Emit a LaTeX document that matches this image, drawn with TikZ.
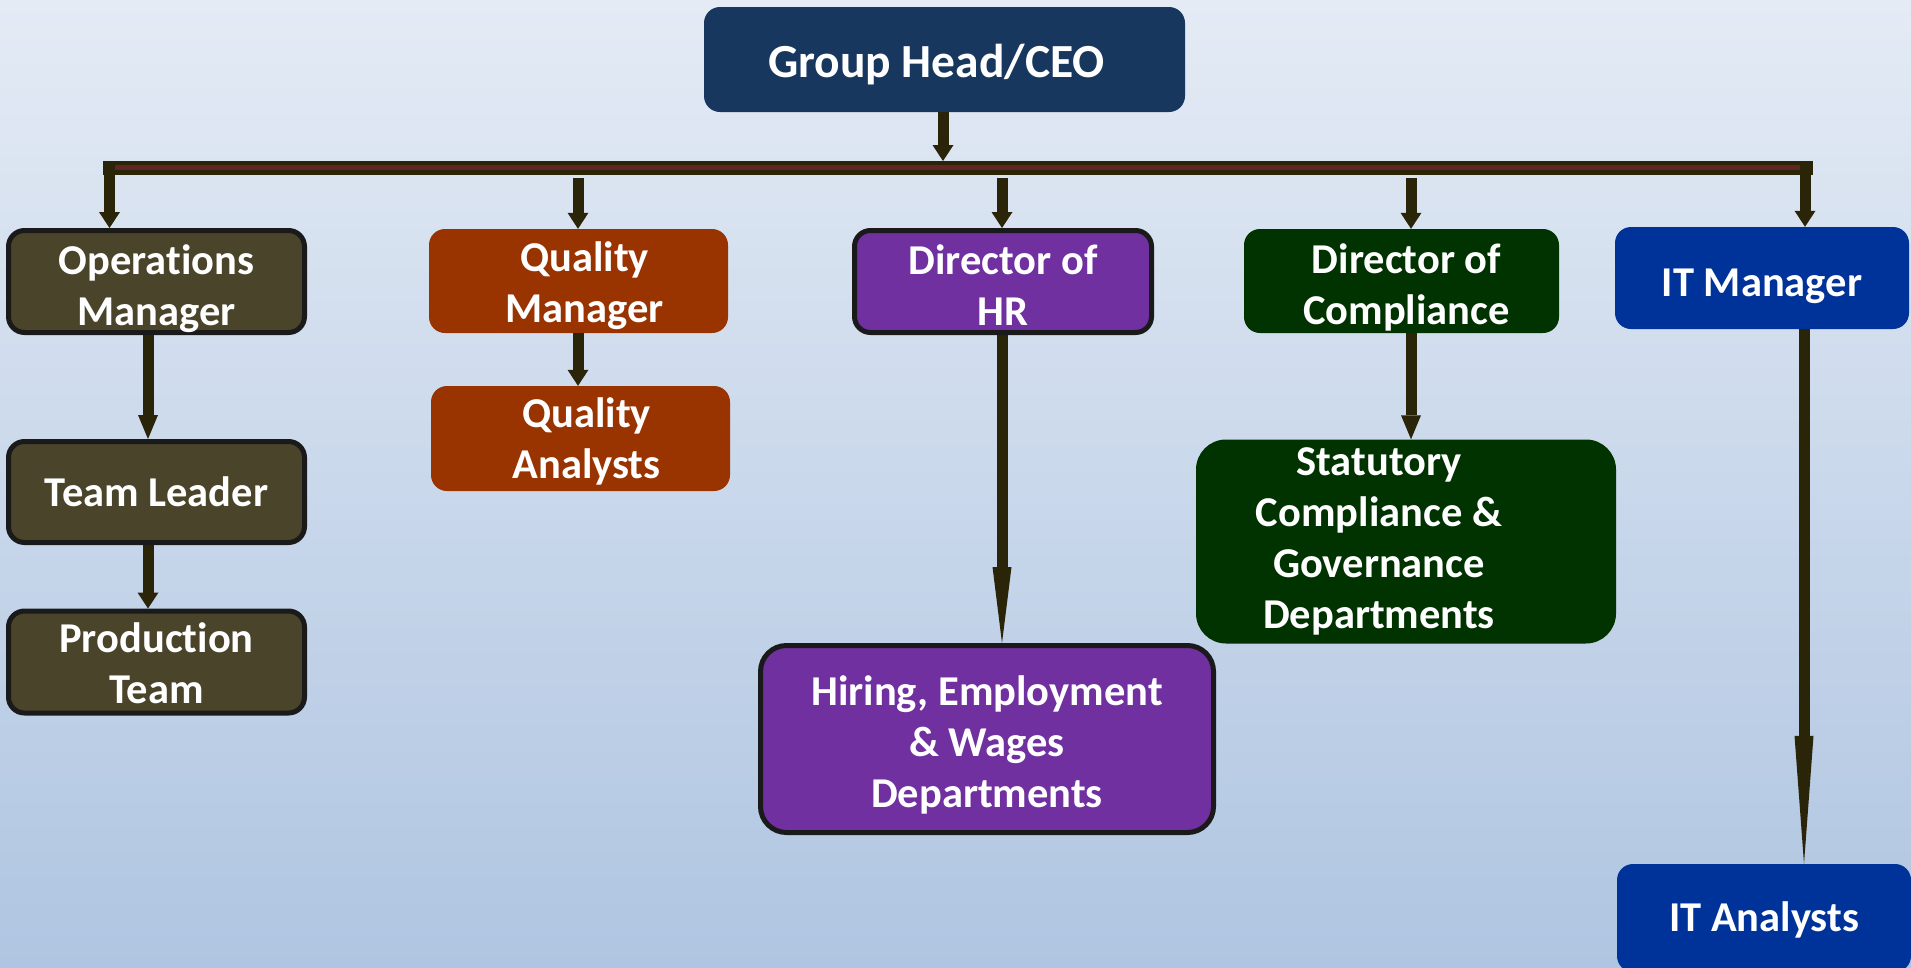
\documentclass[tikz,border=0pt]{standalone}
\usepackage{fontspec}
\setmainfont{Carlito}[Ligatures=NoCommon]
\usetikzlibrary{arrows.meta}
\definecolor{bgtop}{HTML}{E4EBF5}
\definecolor{bgbot}{HTML}{AFC5E1}
\definecolor{ceoc}{HTML}{17375E}
\definecolor{opsc}{HTML}{4A442B}
\definecolor{qualc}{HTML}{993300}
\definecolor{hrc}{HTML}{7030A0}
\definecolor{compc}{HTML}{003300}
\definecolor{itc}{HTML}{003399}
\definecolor{bordc}{HTML}{1A1A1A}
\definecolor{arrc}{HTML}{2A2408}
\definecolor{stripec}{HTML}{632523}
% \lbl{x shift}{raise}{lines}
\newcommand\lbl[3]{\hspace*{#1}\raisebox{#2}[\height][\depth]{\begin{tabular}{@{}c@{}}#3\end{tabular}}\hspace*{-#1}}
\begin{document}
\begin{tikzpicture}[x=1pt,y=-1pt,
  box/.style={rounded corners=16pt, text=white, font=\bfseries\fontsize{42.5}{51}\selectfont, inner sep=0pt},
  bordered/.style={draw=bordc, line width=5pt},
  arr/.style={draw=arrc, line width=11pt, -{Triangle[width=21pt,length=16pt,line width=0pt]}},
  longarr/.style={draw=arrc, line width=11pt, -{Triangle[width=19pt,length=#1,line width=0pt]}},
]
\shade[top color=bgtop, bottom color=bgbot] (0,0) rectangle (1911,967);
\useasboundingbox (0,0) rectangle (1911,967);

% nodes
\node[box, fill=ceoc, minimum width=481pt, minimum height=105pt, font=\bfseries\fontsize{47.5}{57}\selectfont] (ceo) at (944.5,59.5) {\lbl{-8pt}{-6.5pt}{Group Head/CEO}};

\node[box, bordered, fill=opsc, minimum width=296pt, minimum height=102pt] (ops) at (156.5,281.5) {\lbl{0pt}{-8pt}{Operations\\Manager}};
\node[box, bordered, fill=opsc, minimum width=296pt, minimum height=101pt] (tl) at (156.5,492) {\lbl{0pt}{-4pt}{Team Leader}};
\node[box, bordered, fill=opsc, minimum width=296pt, minimum height=101pt] (pt) at (156.5,662) {\lbl{0pt}{-6pt}{Production\\Team}};

\node[box, fill=qualc, minimum width=299pt, minimum height=104pt] (qm) at (578.5,281) {\lbl{6pt}{-5.3pt}{Quality\\Manager}};
\node[box, fill=qualc, minimum width=299pt, minimum height=105pt] (qa) at (580.5,438.5) {\lbl{6pt}{-4.7pt}{Quality\\Analysts}};

\node[box, bordered, fill=hrc, minimum width=297pt, minimum height=102pt] (hr) at (1003,281.5) {\lbl{0pt}{-8pt}{Director of\\HR}};
\node[box, bordered, fill=hrc, rounded corners=26pt, minimum width=453pt, minimum height=187pt] (hire) at (987,739) {\lbl{0pt}{-7pt}{Hiring, Employment\\\& Wages\\Departments}};

\node[box, fill=compc, minimum width=315pt, minimum height=104pt] (dc) at (1401.5,281) {\lbl{5pt}{-8pt}{Director of\\Compliance}};
\node[box, fill=compc, rounded corners=30pt, minimum width=420pt, minimum height=203pt] (stat) at (1406,541.5) {\lbl{-27pt}{0pt}{Statutory\\Compliance \&\\Governance\\Departments}};

\node[box, fill=itc, minimum width=294pt, minimum height=102pt] (itm) at (1762,278) {\lbl{0pt}{-8pt}{IT Manager}};
\node[box, fill=itc, minimum width=294pt, minimum height=108pt] (ita) at (1764,918) {\lbl{0pt}{-3pt}{IT Analysts}};

% bar
\coordinate (barL) at (103,168);
\coordinate (barR) at (1813,168);
\draw[draw=arrc, line width=14pt] (barL) -- (barR);
\draw[draw=stripec, line width=5pt] (108,167.5) -- (1807,167.5);

\coordinate (bartop) at (943,161);
\coordinate (d1) at (109.5,162);
\coordinate (d2) at (578,178);
\coordinate (d3) at (1002,178);
\coordinate (d4) at (1411,178);
\coordinate (d5) at (1805,162);

% connectors
\draw[arr] (ceo.south -| bartop) -- (bartop);
\draw[arr] (d1) -- (ops.north -| d1);
\draw[arr] (d2) -- (qm.north -| d2);
\draw[arr] (d3) -- (hr.north -| d3);
\draw[arr] (d4) -- (dc.north -| d4);
\draw[arr] (d5) -- (itm.north -| d5);

\coordinate (c1) at (148,0);
\draw[arr, -{Triangle[width=20pt,length=24pt,line width=0pt]}] (ops.south -| c1) -- (tl.north -| c1);
\draw[arr] (tl.south -| c1) -- (pt.north -| c1);
\draw[arr] (qm.south -| d2) -- (qa.north -| d2);
\draw[longarr=76pt] (hr.south -| d3) -- (hire.north -| d3);
\draw[arr, -{Triangle[width=20pt,length=24pt,line width=0pt]}] (dc.south -| d4) -- (stat.north -| d4);
\coordinate (c5) at (1804,0);
\draw[longarr=128pt] (itm.south -| c5) -- (ita.north -| c5);
\end{tikzpicture}
\end{document}
